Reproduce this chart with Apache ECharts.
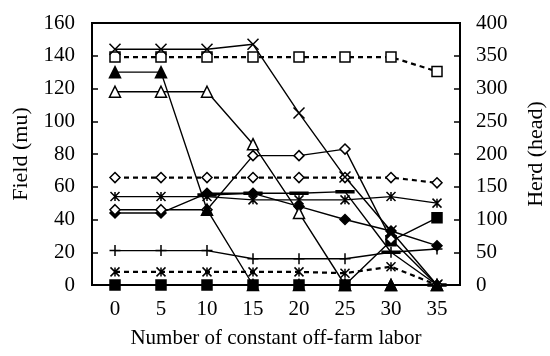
<!DOCTYPE html>
<html>
<head>
<meta charset="utf-8">
<script src="https://cdn.jsdelivr.net/npm/echarts@6/dist/echarts.min.js"></script>
<style>html,body{margin:0;padding:0;background:#fff;}#c{width:550px;height:356px;}</style>
</head>
<body>
<div id="c"></div>
<script>
// Categories: number of constant off-farm labor
const categories = ['0','5','10','15','20','25','30','35'];
// Field series (mu), left axis
const fieldCross      = [144,144,144,147,105,66,33,0];
const fieldTriFilled  = [130,130,46,0,0,0,0,0];
const fieldTriOpen    = [118,118,118,86,44,0,0,0];
const fieldDiaOpen    = [46,46,46,79,79,83,28,0];
const fieldDiaFilled  = [44,44,56,56,48,40,33,24];
const fieldStar       = [54,54,54,52,52,52,54,50];
const fieldDash       = [null,null,55,56,56,57,20,0];
const fieldPlus       = [21,21,21,16,16,16,20,22];
const fieldSqFilled   = [0,0,0,0,0,0,27,41];
// Herd series (head), right axis
const herdSquare  = [348,348,348,348,348,348,348,326];
const herdDiamond = [164,164,164,164,164,164,164,156];
const herdStar    = [20,20,20,20,20,18,28,0];
// Axis ticks
const leftTicks  = {min:0, max:160, interval:20};
const rightTicks = {min:0, max:400, interval:50};

const FONT = 'Liberation Serif';
const SYM = {
  cross: 'path://M0,0L10,10M10,0L0,10',
  star: 'path://M0,0L10,10M10,0L0,10M5,0L5,10',
  plus: 'path://M5,0L5,10M0,5L10,5',
  dash: 'path://M0,0L10,0L10,1.5L0,1.5Z'
};
function mk(name, data, symbol, fill, size, dashed, axis) {
  return {
    name: name, type: 'line', data: data, yAxisIndex: axis || 0,
    symbol: symbol, symbolSize: size, showAllSymbol: true,
    connectNulls: false, animation: false,
    lineStyle: {color: '#000', width: dashed ? 2.2 : 1.4, type: dashed ? [5,4] : 'solid'},
    itemStyle: {color: fill, borderColor: '#000', borderWidth: 1.5}
  };
}
const series = [
  mk('herdSquare', herdSquare, 'rect', '#fff', 10, true, 1),
  mk('herdDiamond', herdDiamond, 'diamond', '#fff', 10, true, 1),
  mk('herdStar', herdStar, SYM.star, '#000', 9, true, 1),
  mk('fieldSqFilled', fieldSqFilled, 'rect', '#000', 10, false),
  mk('fieldPlus', fieldPlus, SYM.plus, '#000', 11, false),
  mk('fieldDash', fieldDash, SYM.dash, '#000', [11,2], false),
  mk('fieldStar', fieldStar, SYM.star, '#000', 9, false),
  mk('fieldDiaFilled', fieldDiaFilled, 'diamond', '#000', 10, false),
  mk('fieldDiaOpen', fieldDiaOpen, 'diamond', '#fff', 10, false),
  mk('fieldTriOpen', fieldTriOpen, 'triangle', '#fff', 11, false),
  mk('fieldTriFilled', fieldTriFilled, 'triangle', '#000', 11, false),
  mk('fieldCross', fieldCross, SYM.cross, '#000', 11, false)
];

const axisTxt = {color: '#000', fontFamily: FONT, fontSize: 21};
const chart = echarts.init(document.getElementById('c'), null, {renderer: 'canvas'});
chart.setOption({
  backgroundColor: '#fff',
  animation: false,
  grid: {left: 92, right: 90, top: 23, bottom: 71, containLabel: false, outerBoundsMode: 'none',
         show: true, borderColor: '#000', borderWidth: 2, backgroundColor: 'transparent'},
  xAxis: {
    type: 'category', data: categories, boundaryGap: true,
    name: 'Number of constant off-farm labor', nameLocation: 'middle', nameGap: 43,
    nameTextStyle: {color: '#000', fontFamily: FONT, fontSize: 21},
    axisLine: {lineStyle: {color: '#000', width: 2}},
    axisTick: {inside: true, length: 6, interval: 0, lineStyle: {color: '#000', width: 1.5}},
    axisLabel: Object.assign({margin: 14, interval: 0}, axisTxt),
    splitLine: {show: false}
  },
  yAxis: [
    {
      type: 'value', min: leftTicks.min, max: leftTicks.max, interval: leftTicks.interval,
      name: 'Field (mu)', nameLocation: 'middle', nameGap: 53, nameRotate: 90,
      nameTextStyle: {color: '#000', fontFamily: FONT, fontSize: 22},
      axisLine: {show: true, lineStyle: {color: '#000', width: 2}},
      axisTick: {show: true, inside: true, length: 6, lineStyle: {color: '#000', width: 1.5}},
      axisLabel: Object.assign({margin: 17}, axisTxt),
      splitLine: {show: false}
    },
    {
      type: 'value', min: rightTicks.min, max: rightTicks.max, interval: rightTicks.interval,
      position: 'right',
      name: 'Herd (head)', nameLocation: 'middle', nameGap: 65, nameRotate: 90,
      nameTextStyle: {color: '#000', fontFamily: FONT, fontSize: 22},
      axisLine: {show: true, lineStyle: {color: '#000', width: 2}},
      axisTick: {show: true, inside: true, length: 6, lineStyle: {color: '#000', width: 1.5}},
      axisLabel: Object.assign({margin: 16}, axisTxt),
      splitLine: {show: false}
    }
  ],
  series: series
});
</script>
</body>
</html>
